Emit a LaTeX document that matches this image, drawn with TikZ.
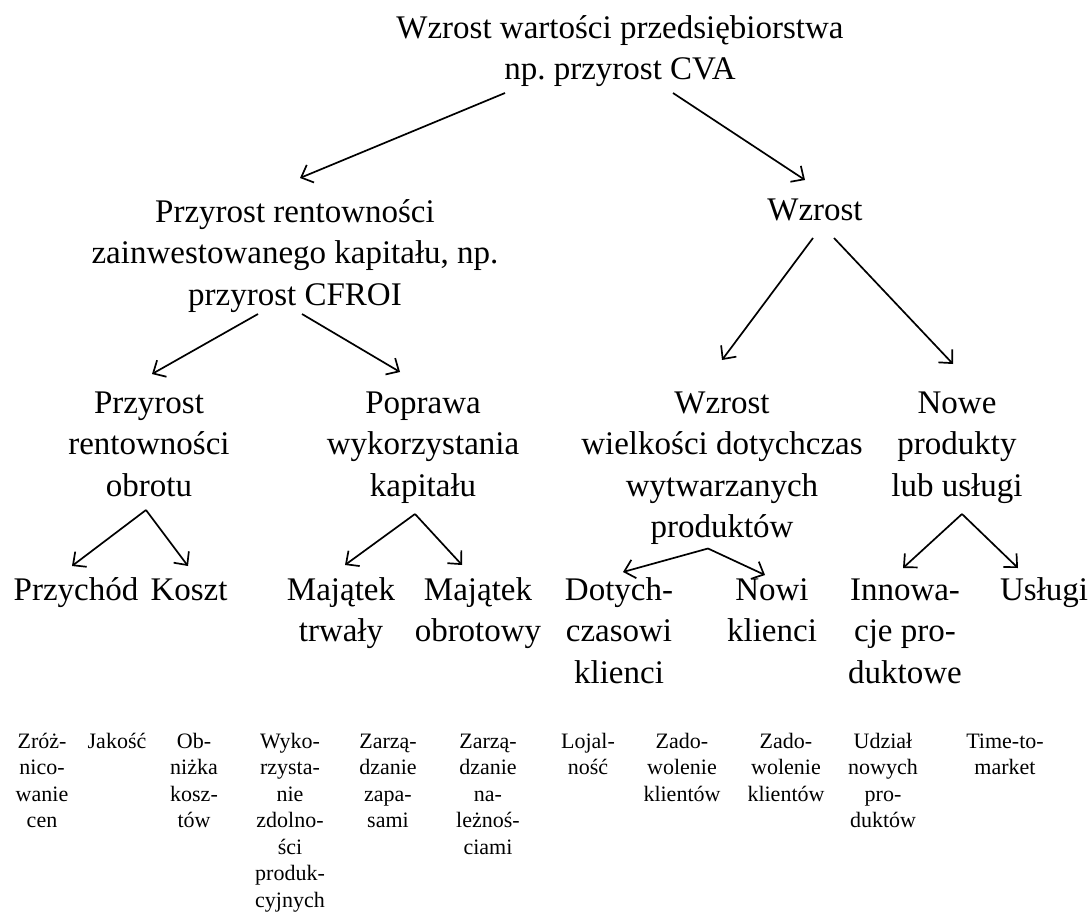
\documentclass[tikz,border=0pt]{standalone}
\usepackage{fontspec}
\setmainfont{Liberation Serif}
\usetikzlibrary{arrows.meta}
\tikzset{
  big/.style={anchor=base, inner sep=0pt, align=center, font=\fontsize{33}{41.5}\selectfont},
  small/.style={anchor=base, inner sep=0pt, align=center, font=\fontsize{22}{26.5}\selectfont},
  arr/.style={line width=1.7pt, -{Straight Barb[length=10pt,width=19pt,line width=1.7pt]}}
}
\begin{document}
\frenchspacing
\begin{tikzpicture}[x=1pt,y=-1pt]
\useasboundingbox (0,0) rectangle (1090,913);
% (node positions are the baselines of their last lines)
% level 0
\node[big] (title) at (620,79.5) {Wzrost wartości przedsiębiorstwa\\np. przyrost CVA};
% level 1
\node[big] (cfroi) at (295,305) {Przyrost rentowności\\zainwestowanego kapitału, np.\\przyrost CFROI};
\node[big] (wzr) at (815,220) {Wzrost};
% level 2
\node[big] (prz) at (149,496) {Przyrost\\rentowności\\obrotu};
\node[big] (pop) at (423,496) {Poprawa\\wykorzystania\\kapitału};
\node[big] (wwd) at (722,537.5) {Wzrost\\wielkości dotychczas\\wytwarzanych\\produktów};
\node[big] (nowe) at (957,496) {Nowe\\produkty\\lub usługi};
% level 3
\node[big] (przy) at (76,600) {Przychód};
\node[big] (koszt) at (189,600) {Koszt};
\node[big] (mt) at (341,641.5) {Majątek\\trwały};
\node[big] (mo) at (478,641.5) {Majątek\\obrotowy};
\node[big] (dk) at (619,683) {Dotych-\\czasowi\\klienci};
\node[big] (nk) at (772,641.5) {Nowi\\klienci};
\node[big] (inn) at (905,683) {Innowa-\\cje pro-\\duktowe};
\node[big] (usl) at (1044,600) {Usługi};
% bottom row
\node[small] (b1) at (42,827.5) {Zróż-\\nico-\\wanie\\cen};
\node[small] (b2) at (117,748) {Jakość};
\node[small] (b3) at (194,827.5) {Ob-\\niżka\\kosz-\\tów};
\node[small] (b4) at (290,907) {Wyko-\\rzysta-\\nie\\zdolno-\\ści\\produk-\\cyjnych};
\node[small] (b5) at (388,827.5) {Zarzą-\\dzanie\\zapa-\\sami};
\node[small] (b6) at (488,854) {Zarzą-\\dzanie\\na-\\leżnoś-\\ciami};
\node[small] (b7) at (588,774.5) {Lojal-\\ność};
\node[small] (b8) at (682,801) {Zado-\\wolenie\\klientów};
\node[small] (b9) at (786,801) {Zado-\\wolenie\\klientów};
\node[small] (b10) at (883,827.5) {Udział\\nowych\\pro-\\duktów};
\node[small] (b11) at (1005,774.5) {Time-to-\\market};
% connectors
\draw[arr] ([shift={(-115,13.5)}]title.base) -- ([shift={(5,-127)}]cfroi.base);
\draw[arr] ([shift={(53,13.5)}]title.base) -- ([shift={(-10,-40)}]wzr.base);
\draw[arr] ([shift={(-37,9)}]cfroi.base) -- ([shift={(3,-122)}]prz.base);
\draw[arr] ([shift={(7,9)}]cfroi.base) -- ([shift={(-23,-124)}]pop.base);
\draw[arr] ([shift={(-2,18)}]wzr.base) -- ([shift={(0,-177.5)}]wwd.base);
\draw[arr] ([shift={(19,18)}]wzr.base) -- ([shift={(-4,-132)}]nowe.base);
\draw[arr] ([shift={(-3,14)}]prz.base) -- ([shift={(-4,-34)}]przy.base);
\draw[arr] ([shift={(-3,14)}]prz.base) -- ([shift={(-1,-34)}]koszt.base);
\draw[arr] ([shift={(-8,18)}]pop.base) -- ([shift={(4,-76.5)}]mt.base);
\draw[arr] ([shift={(-8,18)}]pop.base) -- ([shift={(-16,-76.5)}]mo.base);
\draw[arr] ([shift={(-14,11)}]wwd.base) -- ([shift={(4,-111)}]dk.base);
\draw[arr] ([shift={(-14,11)}]wwd.base) -- ([shift={(-7,-66.5)}]nk.base);
\draw[arr] ([shift={(5,18)}]nowe.base) -- ([shift={(-2,-115)}]inn.base);
\draw[arr] ([shift={(5,18)}]nowe.base) -- ([shift={(-26,-32)}]usl.base);
\end{tikzpicture}
\end{document}
